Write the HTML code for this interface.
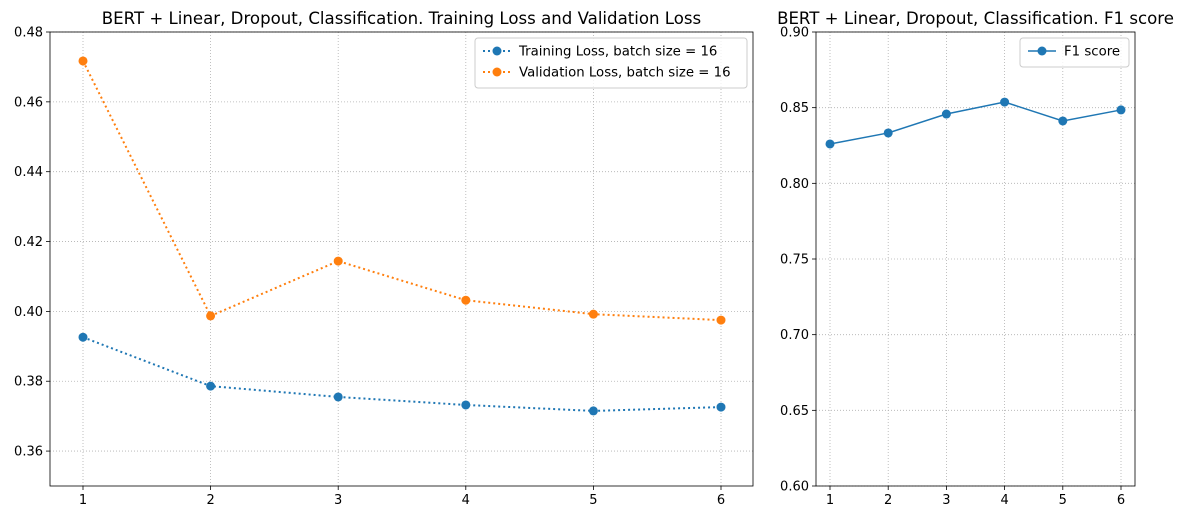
<!DOCTYPE html>
<html><head><meta charset="utf-8"><style>
body{margin:0;background:#fff;}
svg text{font-family:"DejaVu Sans","Liberation Sans",sans-serif;fill:#000;}
</style></head><body>
<svg id="chart" width="1184" height="519" xmlns="http://www.w3.org/2000/svg"></svg>
<script>
const epochs = [1,2,3,4,5,6];
const trainLoss = [0.3926,0.3786,0.3755,0.3732,0.3715,0.3726];
const valLoss = [0.4717,0.3987,0.4144,0.4032,0.3992,0.3975];
const f1Scores = [0.826,0.8333,0.8458,0.8537,0.8412,0.8485];
const lossTicks = [0.36,0.38,0.40,0.42,0.44,0.46,0.48];
const f1Ticks = [0.60,0.65,0.70,0.75,0.80,0.85,0.90];

const svg = document.getElementById('chart');
const NS = 'http://www.w3.org/2000/svg';
function mk(tag, attrs, parent){const e=document.createElementNS(NS,tag);for(const k in attrs)e.setAttribute(k,attrs[k]);(parent||svg).appendChild(e);return e;}

function panel(cfg){
  const g = mk('g',{});
  
  
  const {x0,x1,y0,y1,ymin,ymax,xa,xb} = cfg;
  const X = v => xa + (v-1)*(xb-xa)/5;
  const Y = v => y1 - (v-ymin)/(ymax-ymin)*(y1-y0);
  epochs.forEach(e=>{
    const l = mk('line',{x1:X(e),x2:X(e),y1:y0,y2:y1,stroke:'#b0b0b0','stroke-width':0.8,'stroke-dasharray':'1,2'},g);
    
    
    mk('line',{x1:X(e),x2:X(e),y1:y1,y2:y1+4,stroke:'#000','stroke-width':0.8},g);
    const tx = mk('text',{x:X(e),y:y1+18,'text-anchor':'middle','font-size':13},g);
    tx.textContent = e;
    
    
  });
  cfg.ticks.forEach(v=>{
    mk('line',{x1:x0,x2:x1,y1:Y(v),y2:Y(v),stroke:'#b0b0b0','stroke-width':0.8,'stroke-dasharray':'1,2'},g);
    mk('line',{x1:x0-4,x2:x0,y1:Y(v),y2:Y(v),stroke:'#000','stroke-width':0.8},g);
    const tx = mk('text',{x:x0-7,y:Y(v)+4.5,'text-anchor':'end','font-size':13},g);
    tx.textContent = v.toFixed(2);
    
    
  });
  cfg.series.forEach(s=>{
    const pts = s.data.map((v,i)=>X(epochs[i])+','+Y(v)).join(' ');
    const pl = mk('polyline',{points:pts,fill:'none',stroke:s.color,'stroke-width':s.dash?2:1.5,'stroke-dasharray':s.dash?'2,3':'none'},g);
    
    
    s.data.forEach((v,i)=>{
      const c = mk('circle',{cx:X(epochs[i]),cy:Y(v),r:4.5,fill:s.color},g);
      
      
    });
  });
  mk('rect',{x:x0,y:y0,width:x1-x0,height:y1-y0,fill:'none',stroke:'#000','stroke-width':0.8},g);
  const tt = mk('text',{x:(x0+x1)/2,y:y0-8,'text-anchor':'middle','font-size':16.6},g);
  tt.textContent = cfg.title;
  
  
  const L = cfg.legend;
  const lg = mk('g',{},g);
  
  
  mk('rect',{x:L.x,y:L.y,width:L.w,height:8+cfg.series.length*21,rx:3,fill:'#fff','fill-opacity':0.8,stroke:'#ccc'},lg);
  cfg.series.forEach((s,i)=>{
    const yy = L.y+13+i*21;
    mk('line',{x1:L.x+8,x2:L.x+36,y1:yy,y2:yy,stroke:s.color,'stroke-width':s.dash?2:1.5,'stroke-dasharray':s.dash?'2,3':'none'},lg);
    mk('circle',{cx:L.x+22,cy:yy,r:4.5,fill:s.color},lg);
    const t = mk('text',{x:L.x+44,y:yy+4.5,'font-size':13.3},lg);
    t.textContent = s.label;
    
    
  });
}

panel({name:'loss-chart',x0:50,x1:753,y0:32,y1:486,ymin:0.35,ymax:0.48,xa:83,xb:721,ticks:lossTicks,
  title:'BERT + Linear, Dropout, Classification. Training Loss and Validation Loss',
  legend:{x:475,y:38,w:272},
  series:[{key:'training-loss',data:trainLoss,color:'#1f77b4',dash:true,label:'Training Loss, batch size = 16'},
          {key:'validation-loss',data:valLoss,color:'#ff7f0e',dash:true,label:'Validation Loss, batch size = 16'}]});
panel({name:'f1-chart',x0:816,x1:1135,y0:32,y1:486,ymin:0.60,ymax:0.90,xa:830,xb:1121,ticks:f1Ticks,
  title:'BERT + Linear, Dropout, Classification. F1 score',
  legend:{x:1020,y:38,w:109},
  series:[{key:'f1-score',data:f1Scores,color:'#1f77b4',dash:false,label:'F1 score'}]});
</script>
</body></html>
